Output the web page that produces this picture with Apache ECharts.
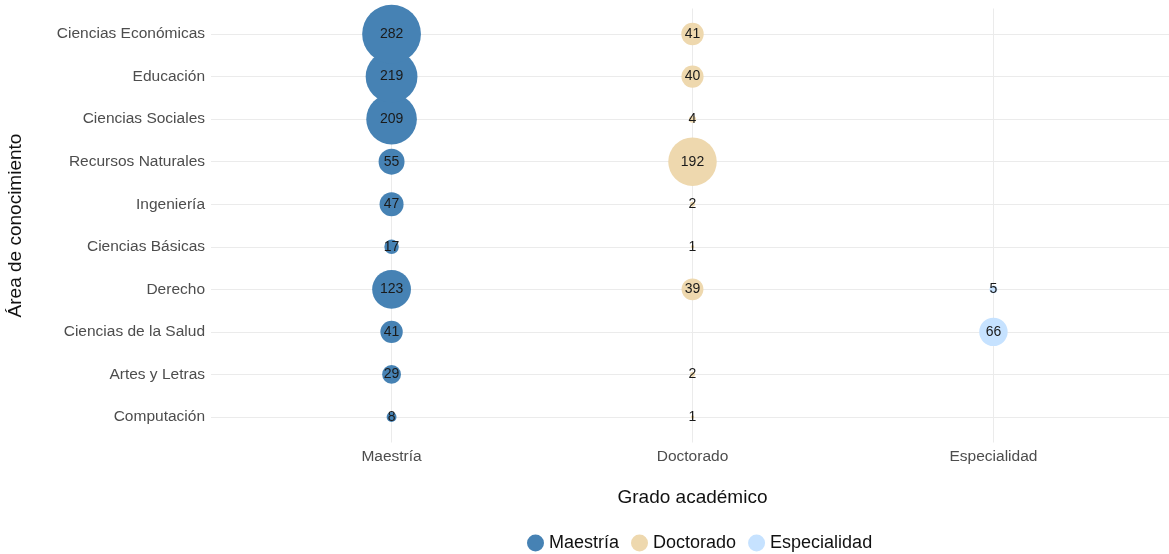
<!DOCTYPE html>
<html>
<head>
<meta charset="utf-8">
<script src="https://cdn.jsdelivr.net/npm/echarts@6/dist/echarts.min.js"></script>
<style>
  html, body { margin: 0; padding: 0; background: #fff; }
  #chart { width: 1169px; height: 554px; }
</style>
</head>
<body>
<div id="chart"></div>
<script>
// areas, bottom to top as drawn
var areas = ["Computación", "Artes y Letras", "Ciencias de la Salud", "Derecho", "Ciencias Básicas",
  "Ingeniería", "Recursos Naturales", "Ciencias Sociales", "Educación", "Ciencias Económicas"];
var grados = ["Maestría", "Doctorado", "Especialidad"];

var maestria = [8, 29, 41, 123, 17, 47, 55, 209, 219, 282];
var doctorado = [1, 2, null, 39, 1, 2, 192, 4, 40, 41];
var especialidad = [null, null, 66, 5, null, null, null, null, null, null];

var colores = ["#4682B4", "#EED8AE", "#C6E2FF"];
var fuente = "'Liberation Sans', Arial, sans-serif";

function puntos(vals, gx) {
  var out = [];
  vals.forEach(function (v, i) {
    if (v != null) out.push([gx, i, v]);
  });
  return out;
}

function serie(name, vals, gx, color) {
  return {
    name: name,
    type: "scatter",
    z: 5,
    data: puntos(vals, gx),
    symbolSize: function (d) { return 3.5 * Math.sqrt(d[2]); },
    itemStyle: { color: color, opacity: 1 },
    label: {
      show: true,
      position: "inside",
      formatter: function (p) { return p.value[2]; },
      color: "#1a1a1a",
      fontSize: 14,
      fontFamily: fuente
    },
    emphasis: { disabled: true }
  };
}

var chart = echarts.init(document.getElementById("chart"));
chart.setOption({
  animation: false,
  textStyle: { fontFamily: fuente },
  grid: { left: 211, top: 8.5, width: 963, height: 434, outerBoundsMode: "none" },
  xAxis: {
    type: "value",
    min: -0.6,
    max: 2.6,
    name: "Grado académico",
    nameLocation: "middle",
    nameGap: 46,
    nameTextStyle: { fontSize: 19, color: "#111", fontFamily: fuente },
    axisLine: { show: false },
    axisTick: { show: false },
    axisLabel: {
      color: "#4d4d4d",
      fontSize: 15.5,
      margin: 6,
      fontFamily: fuente,
      customValues: [0, 1, 2],
      formatter: function (v) { return grados[Math.round(v)]; }
    },
    splitLine: { show: false }
  },
  yAxis: {
    type: "value",
    min: -0.6,
    max: 9.6,
    name: "Área de conocimiento",
    nameLocation: "middle",
    nameGap: 186,
    nameRotate: 90,
    nameTextStyle: { fontSize: 19, color: "#111", fontFamily: fuente },
    axisLine: { show: false },
    axisTick: { show: false },
    axisLabel: {
      color: "#4d4d4d",
      fontSize: 15.5,
      margin: 6,
      fontFamily: fuente,
      customValues: [0, 1, 2, 3, 4, 5, 6, 7, 8, 9],
      formatter: function (v) { return areas[Math.round(v)]; }
    },
    splitLine: { show: false }
  },
  legend: {
    top: 529,
    left: 522,
    itemGap: 12,
    itemWidth: 17,
    itemHeight: 17,
    icon: "circle",
    textStyle: { fontSize: 18, color: "#111", fontFamily: fuente },
    data: grados
  },
  series: [
    // grid lines drawn through the axes' own scale
    {
      type: "line",
      silent: true,
      z: 0,
      data: [],
      markLine: {
        symbol: "none",
        silent: true,
        z: 0,
        animation: false,
        label: { show: false },
        lineStyle: { color: "#ebebeb", type: "solid", width: 1 },
        data: [0, 1, 2].map(function (x) { return { xAxis: x }; })
          .concat(areas.map(function (a, i) { return { yAxis: i }; }))
      }
    },
    serie("Maestría", maestria, 0, colores[0]),
    serie("Doctorado", doctorado, 1, colores[1]),
    serie("Especialidad", especialidad, 2, colores[2])
  ]
});
</script>
</body>
</html>
